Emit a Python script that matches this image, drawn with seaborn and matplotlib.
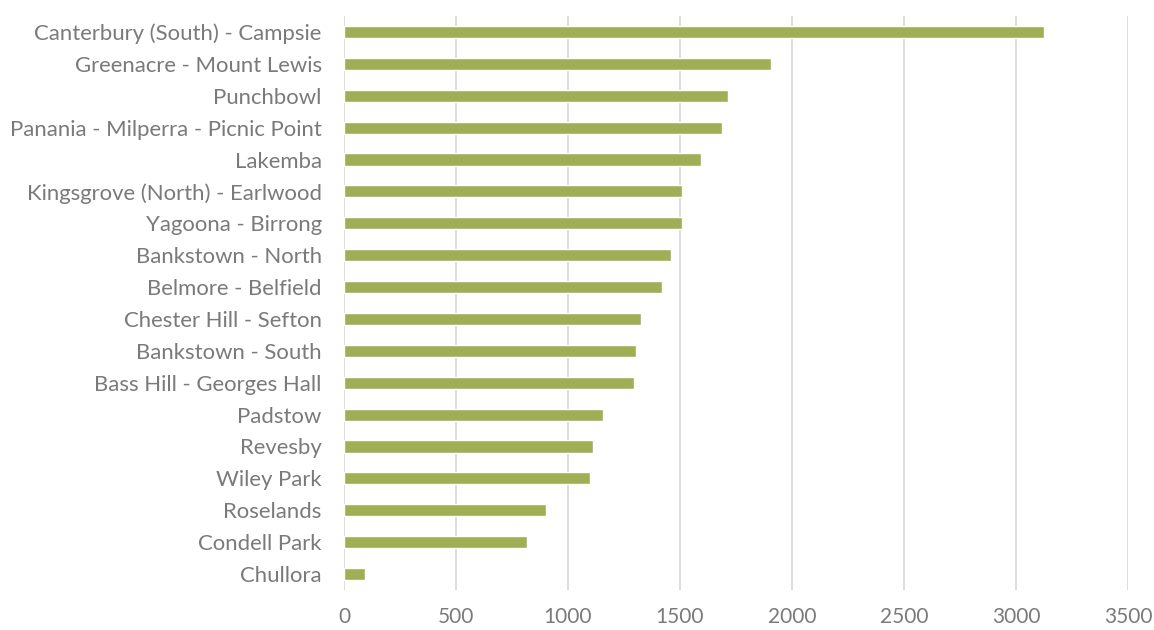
import matplotlib
matplotlib.use("Agg")
import matplotlib.pyplot as plt
import seaborn as sns
import pandas as pd

areas = [
    "Canterbury (South) - Campsie",
    "Greenacre - Mount Lewis",
    "Punchbowl",
    "Panania - Milperra - Picnic Point",
    "Lakemba",
    "Kingsgrove (North) - Earlwood",
    "Yagoona - Birrong",
    "Bankstown - North",
    "Belmore - Belfield",
    "Chester Hill - Sefton",
    "Bankstown - South",
    "Bass Hill - Georges Hall",
    "Padstow",
    "Revesby",
    "Wiley Park",
    "Roselands",
    "Condell Park",
    "Chullora",
]
values = [3125, 1908, 1714, 1686, 1592, 1509, 1509, 1458, 1421, 1326, 1302,
          1295, 1156, 1112, 1097, 900, 817, 95]
x_ticks = [0, 500, 1000, 1500, 2000, 2500, 3000, 3500]

df = pd.DataFrame({"area": areas, "value": values})

sns.set_style("white")
plt.rcParams["font.family"] = ["Lato", "DejaVu Sans"]

fig = plt.figure(figsize=(11.54, 6.3), dpi=100)
ax = fig.add_axes([344 / 1154, 1 - 590 / 630, (1128 - 344) / 1154, (590 - 16) / 630])

sns.barplot(data=df, x="value", y="area", orient="h", color="#A0AF55",
            saturation=1, width=0.38, ax=ax, zorder=3)

ax.set_xlim(0, 3500)
ax.set_ylim(17.5, -0.5)
ax.set_xticks(x_ticks)
ax.set_xticklabels([str(t) for t in x_ticks])
ax.xaxis.grid(True, color="#D9D9D9", linewidth=1.3, zorder=0)
ax.yaxis.grid(False)
for s in ax.spines.values():
    s.set_visible(False)
ax.tick_params(axis="both", length=0, colors="#7A7A7A")
ax.tick_params(axis="y", pad=16, labelsize=15.9)
ax.tick_params(axis="x", pad=12, labelsize=15)
ax.set_xlabel("")
ax.set_ylabel("")

fig.savefig("out.png", dpi=100)
